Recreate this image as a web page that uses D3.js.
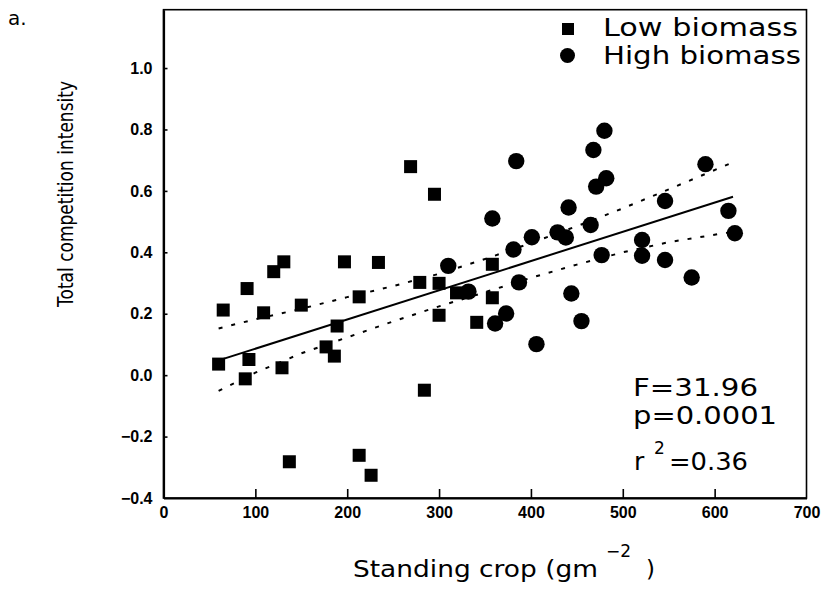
<!DOCTYPE html>
<html>
<head>
<meta charset="utf-8">
<script src="https://cdn.jsdelivr.net/npm/d3@7/dist/d3.min.js"></script>
<style>
  body { margin: 0; background: #fff; }
  svg text { font-family: "DejaVu Sans", sans-serif; fill: #000; }
  .tick text { font-family: "Liberation Sans", Arial, sans-serif; font-weight: bold; }
</style>
</head>
<body>
<svg id="chart" width="828" height="593"></svg>
<script>
// low biomass plots (squares)
const lowX = [60, 65, 89, 91, 93, 109, 120, 129, 131, 137, 150, 177, 186, 189, 197,
  213, 213, 226, 234, 269, 279, 284, 295, 300, 300, 319, 341, 358, 358];
const lowY = [0.036, 0.212, -0.012, 0.282, 0.051, 0.203, 0.337, 0.024, 0.369, -0.282,
  0.228, 0.092, 0.062, 0.16, 0.369, 0.255, -0.261, -0.326, 0.367, 0.679, 0.302,
  -0.049, 0.589, 0.195, 0.299, 0.268, 0.172, 0.361, 0.252];

// high biomass plots (circles)
const highX = [310, 332, 358, 361, 373, 381, 384, 387, 401, 406, 429, 438, 441, 444,
  455, 465, 468, 471, 477, 480, 482, 521, 521, 546, 546, 575, 590, 615, 622];
const highY = [0.356, 0.272, 0.51, 0.168, 0.201, 0.409, 0.697, 0.302, 0.449, 0.101,
  0.465, 0.448, 0.546, 0.266, 0.176, 0.489, 0.733, 0.614, 0.391, 0.796, 0.641,
  0.44, 0.389, 0.567, 0.375, 0.318, 0.687, 0.535, 0.462];

// regression line + 95% band
const fitX = [60, 620];
const fitY = [0.048, 0.581];
const bandX = [60, 100, 150, 200, 250, 300, 350, 400, 450, 500, 550, 620];
const bandUpper = [0.152, 0.182, 0.216, 0.254, 0.29, 0.33, 0.378, 0.43, 0.485, 0.543, 0.605, 0.693];
const bandLower = [-0.051, 0.008, 0.071, 0.123, 0.175, 0.224, 0.27, 0.317, 0.36, 0.4, 0.433, 0.467];

const xTicks = [0, 100, 200, 300, 400, 500, 600, 700];
const yTicks = [-0.4, -0.2, 0.0, 0.2, 0.4, 0.6, 0.8, 1.0];
const legendLabels = ["Low biomass", "High biomass"];
const statLabels = ["F=31.96", "p=0.0001", "=0.36"];

const svg = d3.select("#chart");

const xScale = d3.scaleLinear().domain([0, 700]).range([163.5, 806.5]);
const yScale = d3.scaleLinear().domain([-0.4, 1.19]).range([498, 9.7]);

// frame
svg.append("rect")
  .attr("x", xScale(0)).attr("y", yScale(1.19))
  .attr("width", xScale(700) - xScale(0))
  .attr("height", yScale(-0.4) - yScale(1.19))
  .attr("fill", "none").attr("stroke", "#000").attr("stroke-width", 1.6);

// x axis, ticks point inward
let xAxisGenerator = d3.axisBottom(xScale)
  .tickValues(xTicks).tickSizeInner(-9).tickSizeOuter(0).tickPadding(9)
  .tickFormat(d3.format("d"));
let gx = svg.append("g").attr("id", "axis-x")
  .attr("transform", `translate(0, ${yScale(-0.4)})`)
  .call(xAxisGenerator);
gx.select(".domain").attr("stroke-width", 2.2);
gx.selectAll(".tick line").attr("stroke-width", 1.6);
gx.selectAll(".tick text").attr("font-size", 16);
gx.selectAll(".tick").filter(d => d === 0 || d === 700).select("line").remove();

// y axis
let yAxisGenerator = d3.axisLeft(yScale)
  .tickValues(yTicks).tickSizeInner(-4).tickSizeOuter(0).tickPadding(11)
  .tickFormat(d3.format(".1f"));
let gy = svg.append("g").attr("id", "axis-y")
  .attr("transform", `translate(${xScale(0)}, 0)`)
  .call(yAxisGenerator);
gy.select(".domain").attr("stroke-width", 2.2);
gy.selectAll(".tick line").attr("stroke-width", 1.6);
gy.selectAll(".tick text").attr("font-size", 16);
gy.selectAll(".tick").filter(d => d === -0.4).select("line").remove();

// band + fit
const bandLine = d3.line().x(d => xScale(d[0])).y(d => yScale(d[1]));
[bandUpper, bandLower].forEach(b => {
  svg.append("path")
    .datum(bandX.map((x, i) => [x, b[i]]))
    .attr("d", bandLine)
    .attr("fill", "none").attr("stroke", "#000")
    .attr("stroke-width", 2).attr("stroke-dasharray", "4,9");
});
svg.append("path")
  .datum(fitX.map((x, i) => [x, fitY[i]]))
  .attr("d", bandLine)
  .attr("fill", "none").attr("stroke", "#000").attr("stroke-width", 2);

// points
const sq = 13;
svg.append("g").selectAll("rect")
  .data(lowX.map((x, i) => [x, lowY[i]]))
  .join("rect")
  .attr("x", d => xScale(d[0]) - sq / 2)
  .attr("y", d => yScale(d[1]) - sq / 2)
  .attr("width", sq).attr("height", sq)
  .attr("fill", "#000");

svg.append("g").selectAll("circle")
  .data(highX.map((x, i) => [x, highY[i]]))
  .join("circle")
  .attr("cx", d => xScale(d[0]))
  .attr("cy", d => yScale(d[1]))
  .attr("r", 8.2)
  .attr("fill", "#000");

// legend
let legend = svg.append("g").attr("id", "legend");
legend.append("rect").attr("x", 562).attr("y", 23).attr("width", 12).attr("height", 12).attr("fill", "#000");
legend.append("circle").attr("cx", 567.5).attr("cy", 55.5).attr("r", 7.5).attr("fill", "#000");
legend.selectAll("text")
  .data(legendLabels)
  .join("text")
  .attr("x", 603)
  .attr("y", (d, i) => 36 + i * 27.5)
  .attr("font-size", 25)
  .attr("textLength", (d, i) => i === 0 ? 195 : 198)
  .attr("lengthAdjust", "spacingAndGlyphs")
  .text(d => d);

// stats
let stats = svg.append("g").attr("id", "stats");
stats.append("text").attr("x", 633).attr("y", 396).attr("font-size", 24)
  .attr("textLength", 125).attr("lengthAdjust", "spacingAndGlyphs").text(statLabels[0]);
stats.append("text").attr("x", 633).attr("y", 424).attr("font-size", 24)
  .attr("textLength", 144).attr("lengthAdjust", "spacingAndGlyphs").text(statLabels[1]);
stats.append("text").attr("x", 634).attr("y", 470).attr("font-size", 25).text("r");
stats.append("text").attr("x", 654).attr("y", 454).attr("font-size", 17).text("2");
stats.append("text").attr("x", 669).attr("y", 470).attr("font-size", 25)
  .attr("textLength", 79).attr("lengthAdjust", "spacingAndGlyphs").text(statLabels[2]);

// axis titles
svg.append("text")
  .attr("transform", "translate(73, 194) rotate(-90)")
  .attr("text-anchor", "middle")
  .attr("font-size", 21)
  .attr("textLength", 226).attr("lengthAdjust", "spacingAndGlyphs")
  .text("Total competition intensity");

svg.append("text").attr("x", 353).attr("y", 577).attr("font-size", 23)
  .attr("textLength", 245).attr("lengthAdjust", "spacingAndGlyphs")
  .text("Standing crop (gm");
svg.append("text").attr("x", 606).attr("y", 557).attr("font-size", 17).text("\u22122");
svg.append("text").attr("x", 646).attr("y", 577).attr("font-size", 23).text(")");

// panel letter
svg.append("text").attr("x", 8).attr("y", 25).attr("font-size", 20).text("a.");
</script>
</body>
</html>
